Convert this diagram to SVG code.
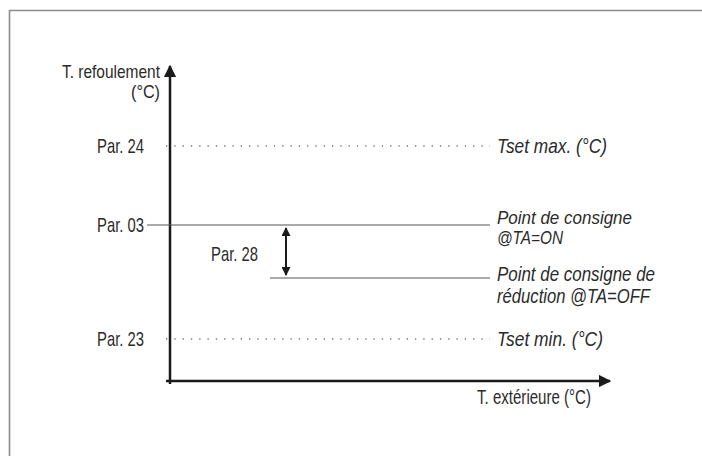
<svg xmlns="http://www.w3.org/2000/svg" width="702" height="456" viewBox="0 0 702 456">
<defs>
<style>
text{font-family:"Liberation Sans","Arial",sans-serif;font-size:21px;fill:#2b2b2b}
.it{font-style:italic}
.sm{font-size:19px}
.axis{stroke:#1a1a1a;stroke-width:2.5;fill:none}
.solid{stroke:#555;stroke-width:1.2;fill:none}
.dot{stroke:#777;stroke-width:1.3;stroke-dasharray:1.3 7;fill:none}
.frame{stroke:#8c8c8c;stroke-width:1.6;fill:none}
</style>
<marker id="ah" viewBox="0 0 10 10" refX="9" refY="5" markerWidth="5" markerHeight="5" markerUnits="strokeWidth" orient="auto"><path d="M0,0L10,5L0,10z" fill="#1a1a1a"/></marker>
<marker id="ah2" viewBox="0 0 10 10" refX="9" refY="5" markerWidth="5" markerHeight="4.5" markerUnits="strokeWidth" orient="auto-start-reverse"><path d="M0,0L10,5L0,10z" fill="#1a1a1a"/></marker>
</defs>
<path class="frame" d="M9.5,456V10.5H702"/>
<g id="connectors">
<line class="axis" x1="170" y1="384" x2="170" y2="66" marker-end="url(#ah)"/>
<line class="axis" x1="166" y1="381" x2="610" y2="381" marker-end="url(#ah)"/>
<line class="dot" x1="166" y1="146" x2="490" y2="146"/>
<line class="solid" x1="147" y1="225" x2="490" y2="225"/>
<line class="solid" x1="270" y1="278" x2="490" y2="278"/>
<line class="dot" x1="166" y1="339" x2="490" y2="339"/>
<line stroke="#1a1a1a" stroke-width="2" x1="286" y1="228" x2="286" y2="275" marker-start="url(#ah2)" marker-end="url(#ah2)"/>
</g>
<g id="y-axis-label">
<text class="sm" x="160" y="78" text-anchor="end" textLength="98" lengthAdjust="spacingAndGlyphs">T. refoulement</text>
<text class="sm" x="160" y="98" text-anchor="end" textLength="29" lengthAdjust="spacingAndGlyphs">(°C)</text>
</g>
<g id="x-axis-label">
<text x="477" y="404" textLength="114" lengthAdjust="spacingAndGlyphs">T. extérieure (°C)</text>
</g>
<g id="par24">
<text x="97" y="153" textLength="47" lengthAdjust="spacingAndGlyphs">Par. 24</text>
<text class="it" x="497" y="153" textLength="110" lengthAdjust="spacingAndGlyphs">Tset max. (°C)</text>
</g>
<g id="par03">
<text x="97" y="232" textLength="47" lengthAdjust="spacingAndGlyphs">Par. 03</text>
<text class="it sm" x="497" y="224" textLength="135" lengthAdjust="spacingAndGlyphs">Point de consigne</text>
<text class="it sm" x="497" y="244" textLength="66" lengthAdjust="spacingAndGlyphs">@TA=ON</text>
</g>
<g id="par28">
<text x="211" y="261" textLength="47" lengthAdjust="spacingAndGlyphs">Par. 28</text>
</g>
<g id="reduction">
<text class="it" x="497" y="281" textLength="158" lengthAdjust="spacingAndGlyphs">Point de consigne de</text>
<text class="it" x="497" y="303" textLength="153" lengthAdjust="spacingAndGlyphs">réduction @TA=OFF</text>
</g>
<g id="par23">
<text x="97" y="346" textLength="47" lengthAdjust="spacingAndGlyphs">Par. 23</text>
<text class="it" x="497" y="346" textLength="106" lengthAdjust="spacingAndGlyphs">Tset min. (°C)</text>
</g>
</svg>
